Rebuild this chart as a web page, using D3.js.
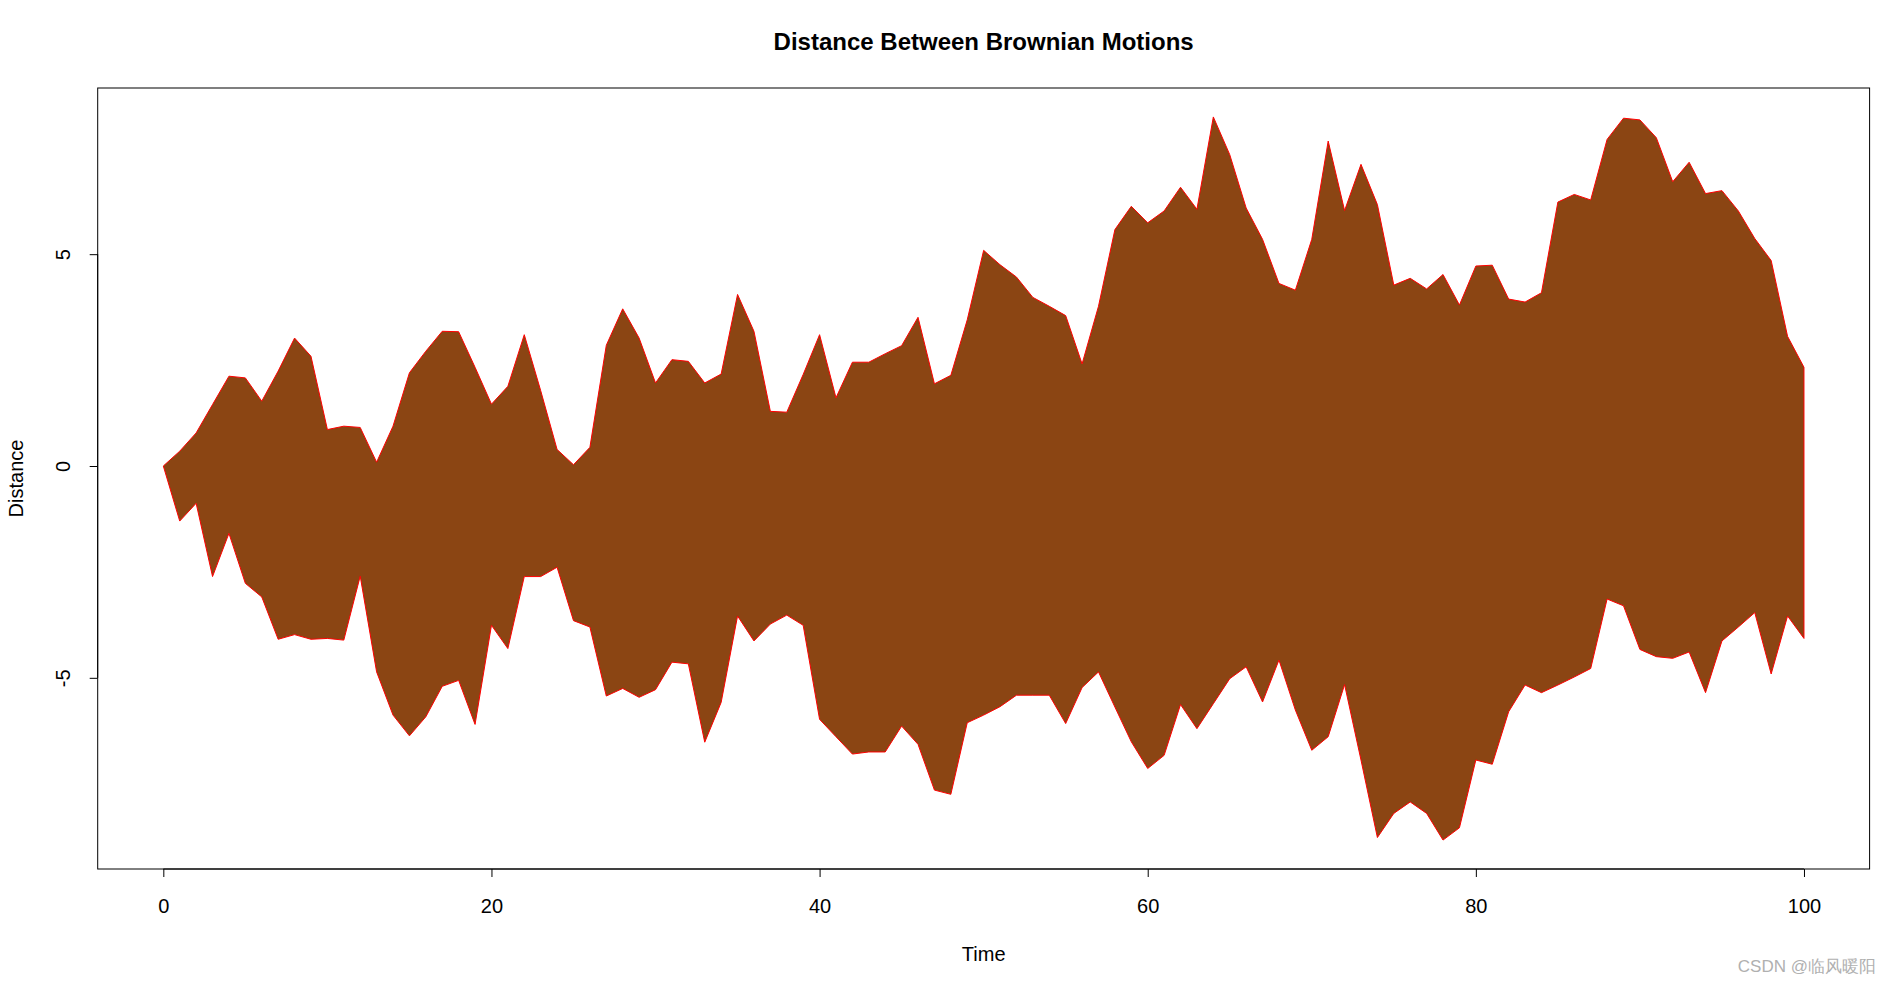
<!DOCTYPE html>
<html>
<head>
<meta charset="utf-8">
<script src="https://cdn.jsdelivr.net/npm/d3@7"></script>
<style>
  html, body { margin: 0; padding: 0; background: #fff; }
  svg { display: block; }
  text { font-family: "Liberation Sans", Arial, sans-serif; fill: #000; }
</style>
</head>
<body>
<svg id="chart" width="1890" height="983"></svg>
<script>
// ---- data ----
const time = d3.range(0, 101);
const upper = [
  0, 0.35, 0.78, 1.45, 2.12, 2.08, 1.53, 2.24, 3.02, 2.59,
  0.86, 0.94, 0.91, 0.09, 0.94, 2.20, 2.71, 3.18, 3.17, 2.33,
  1.46, 1.88, 3.10, 1.78, 0.39, 0.03, 0.44, 2.85, 3.71, 3.02,
  1.96, 2.51, 2.47, 1.96, 2.17, 4.05, 3.18, 1.29, 1.27, 2.16,
  3.10, 1.61, 2.45, 2.45, 2.65, 2.84, 3.51, 1.94, 2.14, 3.45,
  5.09, 4.75, 4.46, 3.98, 3.77, 3.55, 2.41, 3.77, 5.58, 6.13,
  5.74, 6.02, 6.58, 6.06, 8.24, 7.35, 6.09, 5.35, 4.31, 4.15,
  5.35, 7.67, 6.03, 7.12, 6.17, 4.27, 4.43, 4.18, 4.52, 3.80,
  4.72, 4.74, 3.94, 3.87, 4.09, 6.23, 6.41, 6.28, 7.71, 8.21,
  8.17, 7.75, 6.71, 7.17, 6.43, 6.50, 6.02, 5.37, 4.85, 3.06,
  2.33
];
const lower = [
  0, -1.30, -0.88, -2.61, -1.59, -2.77, -3.09, -4.09, -3.98, -4.09,
  -4.07, -4.11, -2.60, -4.86, -5.88, -6.37, -5.92, -5.20, -5.06, -6.10,
  -3.76, -4.31, -2.61, -2.61, -2.39, -3.65, -3.80, -5.43, -5.25, -5.46,
  -5.28, -4.63, -4.67, -6.52, -5.58, -3.54, -4.13, -3.73, -3.52, -3.76,
  -5.98, -6.39, -6.80, -6.75, -6.75, -6.14, -6.57, -7.65, -7.75, -6.06,
  -5.88, -5.68, -5.41, -5.41, -5.41, -6.08, -5.23, -4.86, -5.69, -6.51,
  -7.14, -6.83, -5.63, -6.20, -5.61, -5.02, -4.74, -5.57, -4.58, -5.76,
  -6.71, -6.39, -5.16, -6.94, -8.77, -8.20, -7.93, -8.20, -8.83, -8.54,
  -6.94, -7.04, -5.80, -5.17, -5.35, -5.17, -4.98, -4.78, -3.14, -3.30,
  -4.33, -4.50, -4.54, -4.39, -5.35, -4.13, -3.80, -3.46, -4.91, -3.54,
  -4.07
];
const xTicks = [0, 20, 40, 60, 80, 100];
const yTicks = [-5, 0, 5];
const titleText = "Distance Between Brownian Motions";
const xLabel = "Time";
const yLabel = "Distance";
const watermark = "CSDN @临风暖阳";

// ---- layout ----
const box = { left: 97.7, right: 1869.6, top: 88, bottom: 869 };
const svg = d3.select("#chart");

// R-style 4% axis extension
const xMin = d3.min(time), xMax = d3.max(time);
const xPad = (xMax - xMin) * 0.04;
const yMin = d3.min(lower), yMax = d3.max(upper);
const yPad = (yMax - yMin) * 0.04;

const x = d3.scaleLinear().domain([xMin - xPad, xMax + xPad]).range([box.left, box.right]);
const y = d3.scaleLinear().domain([yMin - yPad, yMax + yPad]).range([box.bottom, box.top]);

// polygon: upper forward, lower reversed
const pts = time.map((t, i) => [x(t), y(upper[i])])
  .concat(time.slice().reverse().map((t, j) => {
    const i = time.length - 1 - j;
    return [x(t), y(lower[i])];
  }));

svg.append("path")
  .attr("d", d3.line()(pts) + "Z")
  .attr("fill", "#8B4513")
  .attr("stroke", "#ff0000")
  .attr("stroke-width", 1);

// box
svg.append("rect")
  .attr("x", box.left).attr("y", box.top)
  .attr("width", box.right - box.left).attr("height", box.bottom - box.top)
  .attr("fill", "none").attr("stroke", "#000").attr("stroke-width", 1);

// x axis
const xAxis = d3.axisBottom(x).tickValues(xTicks).tickSize(8).tickSizeOuter(0);
const gx = svg.append("g").attr("transform", `translate(0,${box.bottom})`).call(xAxis);
gx.select(".domain").attr("d", `M${x(xTicks[0])},0H${x(xTicks[xTicks.length-1])}`).attr("stroke", "#000");
gx.selectAll(".tick line").attr("stroke", "#000");
gx.selectAll(".tick text")
  .attr("font-size", 20)
  .attr("font-family", "Liberation Sans, Arial, sans-serif")
  .attr("fill", "#000")
  .attr("dy", null)
  .attr("y", 44);

// y axis
const yAxis = d3.axisLeft(y).tickValues(yTicks).tickSize(8).tickSizeOuter(0).tickFormat(d3.format("d"));
const gy = svg.append("g").attr("transform", `translate(${box.left},0)`).call(yAxis);
gy.select(".domain").attr("d", `M0,${y(yTicks[0])}V${y(yTicks[yTicks.length-1])}`).attr("stroke", "#000");
gy.selectAll(".tick line").attr("stroke", "#000");
gy.selectAll(".tick text")
  .attr("font-size", 20)
  .attr("font-family", "Liberation Sans, Arial, sans-serif")
  .attr("fill", "#000")
  .attr("x", null).attr("dy", null)
  .attr("text-anchor", "middle")
  .attr("dominant-baseline", "central")
  .attr("transform", "translate(-34.5,0) rotate(-90)")
  .text(d => d === -5 ? "-5" : d);

// title
svg.append("text")
  .attr("x", (box.left + box.right) / 2).attr("y", 41)
  .attr("text-anchor", "middle").attr("dominant-baseline", "central")
  .attr("font-size", 24).attr("font-weight", "bold")
  .text(titleText);

// axis labels
svg.append("text")
  .attr("x", (box.left + box.right) / 2).attr("y", 954)
  .attr("text-anchor", "middle").attr("dominant-baseline", "central")
  .attr("font-size", 20)
  .text(xLabel);

svg.append("text")
  .attr("transform", `translate(16,${(box.top + box.bottom) / 2}) rotate(-90)`)
  .attr("text-anchor", "middle").attr("dominant-baseline", "central")
  .attr("font-size", 20)
  .text(yLabel);

// watermark
svg.append("text")
  .attr("x", 1876).attr("y", 966)
  .attr("text-anchor", "end").attr("dominant-baseline", "central")
  .attr("font-size", 17)
  .style("fill", "#b0b0b0")
  .attr("font-family", "Noto Sans CJK SC, Noto Sans, sans-serif")
  .text(watermark);
</script>
</body>
</html>
